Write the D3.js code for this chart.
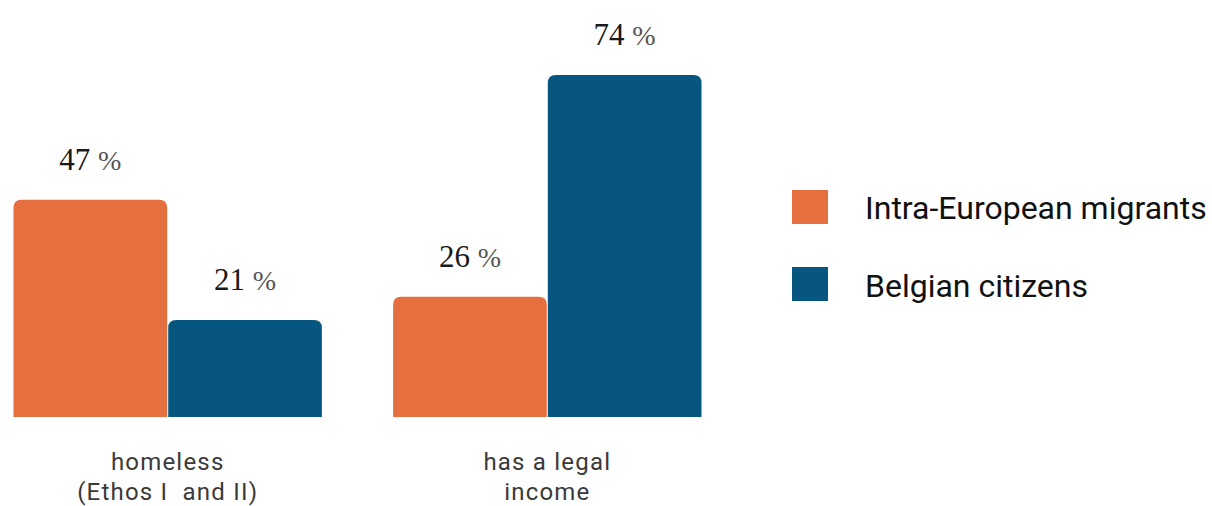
<!DOCTYPE html>
<html><head><meta charset="utf-8">
<script src="https://cdn.jsdelivr.net/npm/d3@7"></script>
<style>body{margin:0;background:#fff;} svg{display:block;} text{white-space:pre;}</style>
</head><body>
<svg id="chart" width="1212" height="506"></svg>
<script>
const categories = [["homeless","(Ethos I  and II)"],["has a legal","income"]];
const seriesNames = ["Intra-European migrants","Belgian citizens"];
const migrants = [47, 26];
const belgians = [21, 74];
const colors = ["#E56F3F","#075680"];

const svg = d3.select("#chart");
const x0 = d3.scaleBand().domain(d3.range(categories.length)).range([13, 702]).paddingInner(0.185).paddingOuter(0);
const x1 = d3.scaleBand().domain([0,1]).range([0, x0.bandwidth()]).padding(0);
const y = d3.scaleLinear().domain([0, 74]).range([417, 75]);

const data = categories.map((c,i)=>[migrants[i], belgians[i]]);
const r = 8;
function barPath(x, w, yt, yb){
  return `M${x},${yb}V${yt+r}Q${x},${yt} ${x+r},${yt}H${x+w-r}Q${x+w},${yt} ${x+w},${yt+r}V${yb}Z`;
}
data.forEach((vals, i)=>{
  const g = svg.append("g").attr("transform",`translate(${x0(i)},0)`);
  vals.forEach((v,j)=>{
    const bx = x1(j), bw = x1.bandwidth();
    g.append("path").attr("d", barPath(bx+0.5, bw-1, y(v), y(0))).attr("fill", colors[j]);
    const t = g.append("text").attr("x", bx+bw/2).attr("y", y(v)-30)
      .attr("text-anchor","middle").attr("font-family","'Liberation Serif', serif")
      .attr("font-size",31).attr("fill","#1a1a1a");
    t.append("tspan").text(v+" ");
    t.append("tspan").attr("font-size",28).attr("fill","#555").text("%");
  });
  const t = svg.append("text").attr("text-anchor","middle")
    .attr("font-family","Roboto, sans-serif").attr("font-size",24).attr("letter-spacing",1.2).attr("fill","#3a3a3a");
  categories[i].forEach((line,k)=>{
    t.append("tspan").attr("x", x0(i)+x0.bandwidth()/2).attr("y", 470+k*30).text(line);
  });
});

const leg = svg.append("g");
seriesNames.forEach((n,j)=>{
  leg.append("rect").attr("x",792).attr("y",190+j*77).attr("width",36).attr("height",34).attr("fill",colors[j]);
  leg.append("text").attr("x",865).attr("y",219+j*78).attr("font-family","Roboto, sans-serif")
    .attr("font-size",32).attr("fill","#111").text(n);
});
</script>
</body></html>
